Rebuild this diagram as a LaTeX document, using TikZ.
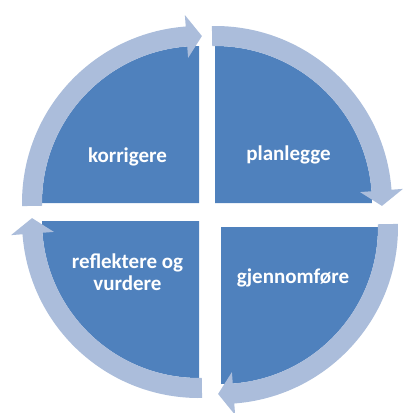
\documentclass[tikz,border=0pt]{standalone}
\usepackage{fontspec}
\setmainfont{Carlito}
\usetikzlibrary{calc}
\definecolor{quadblue}{HTML}{4F81BD}
\definecolor{ringblue}{HTML}{ABBDDB}
\tikzset{
  quad/.style={fill=quadblue},
  ring/.style={fill=ringblue},
  lbl/.style={text=white, font=\bfseries\fontsize{21}{22}\selectfont, align=center, anchor=base, inner sep=0pt}
}
\begin{document}
\begin{tikzpicture}[x=1pt,y=-1pt]
\useasboundingbox (0,0) rectangle (403,413);
% quadrant corners
\coordinate (tl) at (199,203);
\coordinate (tr) at (215,203);
\coordinate (br) at (221,227);
\coordinate (bl) at (199,221);
% quadrants
\fill[quad] (tl) -- ($(tl)+(180:157)$) arc[start angle=180, end angle=270, radius=157] -- cycle;
\fill[quad] (tr) -- ($(tr)+(270:157)$) arc[start angle=270, end angle=360, radius=157] -- cycle;
\fill[quad] (br) -- ($(br)+(0:157)$) arc[start angle=0, end angle=90, radius=157] -- cycle;
\fill[quad] (bl) -- ($(bl)+(90:157)$) arc[start angle=90, end angle=180, radius=157] -- cycle;
% circular arrows
\foreach \c/\s/\e in {tl/179/270, tr/269/360, br/-1/90, bl/89/180} {
  \pgfmathsetmacro\b{\e-4.3}
  \pgfmathsetmacro\t{\e+1}
  \fill[ring] ($(\c)+(\s:177)$) arc[start angle=\s, end angle=\b, radius=177]
    -- ($(\c)+(\b:188.5)$) -- ($(\c)+(\t:167)$) -- ($(\c)+(\b:145.5)$)
    -- ($(\c)+(\b:157)$) arc[start angle=\b, end angle=\s, radius=157] -- cycle;
}
% labels
\node[lbl] (korr) at (127.5,162) {korrigere};
\node[lbl] (plan) at (288.5,160) {planlegge};
\node[lbl] (gjen) at (293,283) {gjennomføre};
\node[lbl] (refl) at (127.5,290) {reflektere og\\vurdere};
\end{tikzpicture}
\end{document}
